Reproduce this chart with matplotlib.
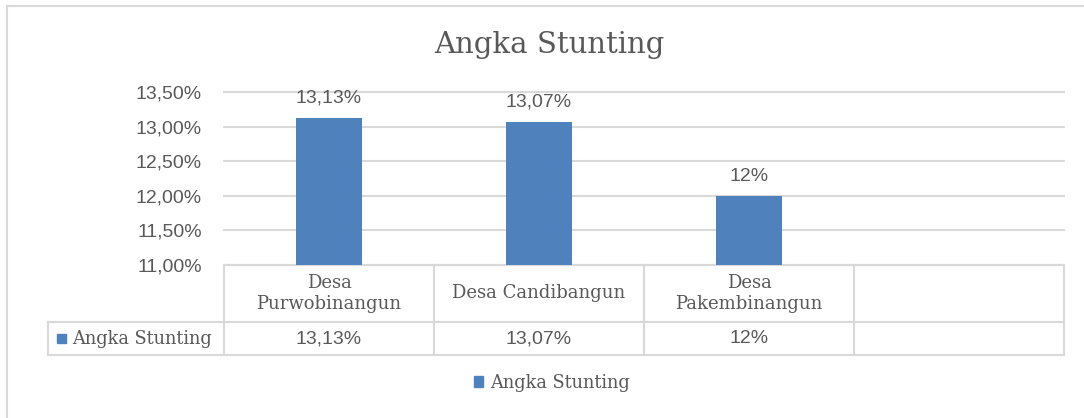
import matplotlib.pyplot as plt
from matplotlib.lines import Line2D
from matplotlib.patches import Rectangle

categories = ['Desa\nPurwobinangun', 'Desa Candibangun', 'Desa\nPakembinangun', '']
values = [13.13, 13.07, 12.00, None]
value_labels = ['13,13%', '13,07%', '12%', '']
series_name = 'Angka Stunting'
yticks = [11.0, 11.5, 12.0, 12.5, 13.0, 13.5]
ytick_labels = ['11,00%', '11,50%', '12,00%', '12,50%', '13,00%', '13,50%']

bar_color = '#4F81BD'
text_color = '#595959'
line_color = '#D9D9D9'
serif = 'DejaVu Serif'
sans = 'Liberation Sans'

W, H = 1084, 418
fig = plt.figure(figsize=(W / 100, H / 100), dpi=100)

# outer chart border (left + top only visible)
fig.add_artist(Line2D([7 / W, 7 / W], [0, 1 - 6 / H], color=line_color, lw=1.5))
fig.add_artist(Line2D([7 / W, 1], [1 - 6 / H, 1 - 6 / H], color=line_color, lw=1.5))

ax = fig.add_axes([224 / W, (H - 265) / H, (1064 - 224) / W, (265 - 92) / H])
n = len(categories)
xs = list(range(n))
for x, v, lab in zip(xs, values, value_labels):
    if v is None:
        continue
    ax.bar(x, v - yticks[0], bottom=yticks[0], width=0.31, color=bar_color, zorder=3)
    ax.annotate(lab, (x, v), xytext=(0, 8), textcoords='offset points',
                ha='center', va='bottom', fontsize=14, color=text_color, family=sans)

ax.set_xlim(-0.5, n - 0.5)
ax.set_ylim(yticks[0], yticks[-1])
ax.set_yticks(yticks)
ax.set_yticklabels(ytick_labels, fontsize=14, color=text_color, family=sans)
ax.tick_params(axis='y', length=0, pad=16)
ax.set_xticks([])
ax.grid(axis='y', color=line_color, lw=1.5, zorder=0)
for gl in ax.get_ygridlines():
    gl.set_clip_on(False)
for s in ax.spines.values():
    s.set_visible(False)

# data table below the plot
tr = ax.get_xaxis_transform()
row1 = -(322 - 265) / 173
row2 = -(355 - 265) / 173
left = -0.5 - 176 / 210
kw = dict(transform=tr, color=line_color, lw=1.5, clip_on=False)
ax.add_line(Line2D([-0.5, n - 0.5], [0, 0], **kw))
ax.add_line(Line2D([left, n - 0.5], [row1, row1], **kw))
ax.add_line(Line2D([left, n - 0.5], [row2, row2], **kw))
ax.add_line(Line2D([left, left], [row1, row2], **kw))
for i in range(n + 1):
    ax.add_line(Line2D([i - 0.5, i - 0.5], [0, row2], **kw))
for x, cat, lab in zip(xs, categories, value_labels):
    ax.text(x, row1 / 2, cat, transform=tr, ha='center', va='center',
            fontsize=13, color=text_color, family=serif, linespacing=1.2)
    ax.text(x, (row1 + row2) / 2, lab, transform=tr, ha='center', va='center',
            fontsize=14, color=text_color, family=sans)
ax.add_patch(Rectangle((left + 0.045, (row1 + row2) / 2 - 0.028), 0.042, 0.056,
                       transform=tr, color=bar_color, clip_on=False))
ax.text(left + 0.115, (row1 + row2) / 2, series_name, transform=tr, ha='left',
        va='center', fontsize=12.8, color=text_color, family=serif)

fig.text(549 / W, 1 - 45 / H, series_name, ha='center', va='center',
         fontsize=21, color=text_color, family=serif)

leg = fig.legend(handles=[Rectangle((0, 0), 1, 1, color=bar_color)], labels=[series_name],
                 loc='center', bbox_to_anchor=(552 / W, 1 - 383 / H), frameon=False,
                 handlelength=0.55, handleheight=0.55, handletextpad=0.4,
                 prop={'family': serif, 'size': 12.8})
for t in leg.get_texts():
    t.set_color(text_color)

fig.savefig('out.png', dpi=100)
